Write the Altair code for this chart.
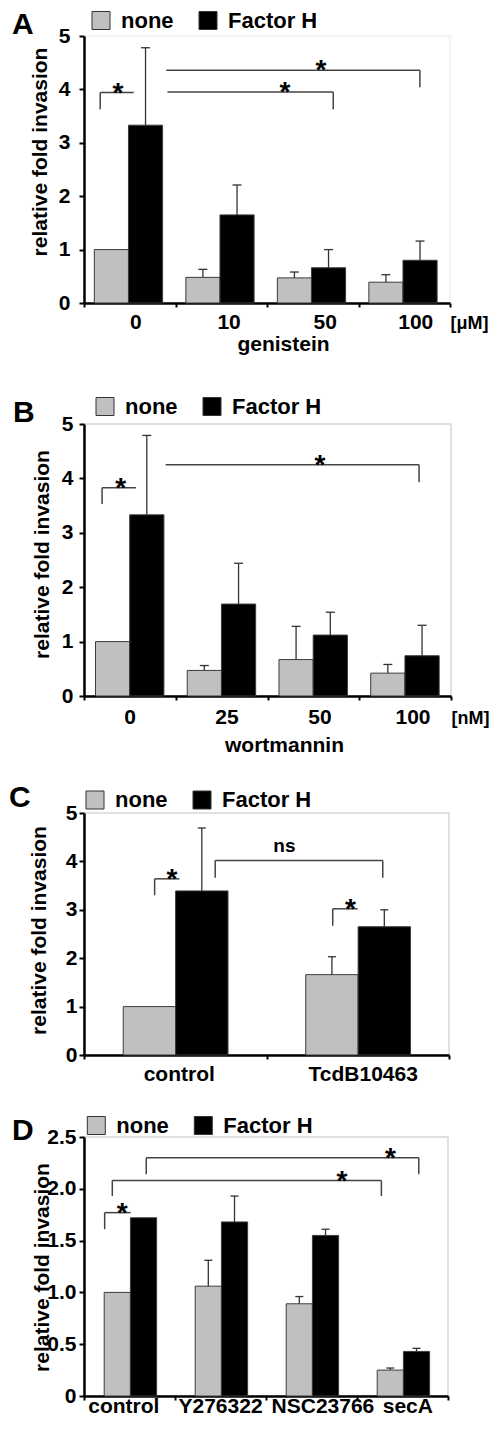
import altair as alt
import pandas as pd

FONT = "Liberation Sans"
SERIES = ["none", "Factor H"]
COLORS = ["#c0c0c0", "#000000"]

# ---------------- Panel A (genistein) ----------------
a_groups = ["0", "10", "50", "100"]
a_none = [1.0, 0.48, 0.47, 0.39]
a_fh = [3.33, 1.65, 0.66, 0.80]
a_none_up = [None, 0.63, 0.58, 0.53]
a_fh_up = [4.78, 2.21, 1.00, 1.16]
a_br_x1 = [0.177, 0.912, 0.899]
a_br_x2 = [0.544, 2.724, 3.671]
a_br_y = [3.94, 3.95, 4.36]
a_br_ld = [3.63, None, None]
a_br_rd = [None, 3.63, 4.04]
a_br_tx = [0.371, 2.196, 2.589]
a_br_text = ["*", "*", "*"]

# ---------------- Panel B (wortmannin) ----------------
b_groups = ["0", "25", "50", "100"]
b_none = [1.0, 0.47, 0.67, 0.42]
b_fh = [3.33, 1.69, 1.12, 0.74]
b_none_up = [None, 0.56, 1.28, 0.58]
b_fh_up = [4.79, 2.44, 1.54, 1.30]
b_br_x1 = [0.197, 0.890]
b_br_x2 = [0.567, 3.652]
b_br_y = [3.83, 4.25]
b_br_ld = [3.53, None]
b_br_rd = [None, 3.93]
b_br_tx = [0.401, 2.572]
b_br_text = ["*", "*"]

# ---------------- Panel C (TcdB) ----------------
c_groups = ["control", "TcdB10463"]
c_none = [1.0, 1.66]
c_fh = [3.39, 2.65]
c_none_up = [None, 2.03]
c_fh_up = [4.69, 3.00]
c_br_x1 = [0.387, 0.719, 1.363]
c_br_x2 = [0.523, 1.637, 1.500]
c_br_y = [3.64, 4.02, 3.02]
c_br_ld = [3.30, 3.66, 2.67]
c_br_rd = [None, 3.66, None]
c_br_tx = [0.482, 1.098, 1.460]
c_br_text = ["*", "ns", "*"]

# ---------------- Panel D (inhibitors) ----------------
d_groups = ["control", "Y276322", "NSC23766", "secA"]
d_none = [1.0, 1.06, 0.89, 0.25]
d_fh = [1.72, 1.68, 1.55, 0.43]
d_none_up = [None, 1.31, 0.96, 0.27]
d_fh_up = [None, 1.93, 1.61, 0.46]
d_br_x1 = [0.227, 0.311, 0.684]
d_br_x2 = [0.513, 3.268, 3.679]
d_br_y = [1.77, 2.08, 2.30]
d_br_ld = [1.61, 1.93, 2.14]
d_br_rd = [None, 1.93, 2.14]
d_br_tx = [0.420, 2.836, 3.367]
d_br_text = ["*", "*", "*"]

Y_TITLE = "relative fold invasion"


def panel(letter, groups, none, fh, none_up, fh_up,
          br_x1, br_x2, br_y, br_ld, br_rd, br_tx, br_text,
          ymax, yvals, ylabel_expr, unit, xtitle, lay):
    n = len(groups)
    pad, bw = lay["pad"], lay["bw"]
    rows = []
    for s, (name, vals, ups) in enumerate(zip(SERIES, [none, fh], [none_up, fh_up])):
        for i, g in enumerate(groups):
            x1 = i + pad + s * bw
            rows.append(dict(group=g, series=name, value=vals[i], base=0.0,
                             upper=ups[i], x1=x1, x2=x1 + bw, xc=x1 + bw / 2))
    df = pd.DataFrame(rows)
    err_df = df.dropna(subset=["upper"])

    segs = []
    for x1, x2, y, ld, rd in zip(br_x1, br_x2, br_y, br_ld, br_rd):
        segs.append(dict(x=x1, x2=x2, y=y, y2=y))
        if ld is not None:
            segs.append(dict(x=x1, x2=x1, y=y, y2=ld))
        if rd is not None:
            segs.append(dict(x=x2, x2=x2, y=y, y2=rd))
    seg_df = pd.DataFrame(segs)
    lab_df = pd.DataFrame(dict(x=br_tx, y=br_y, t=br_text))
    star_df = lab_df[lab_df.t == "*"]
    word_df = lab_df[lab_df.t != "*"]

    xscale = alt.Scale(domain=[0, n], nice=False, zero=False)
    yscale = alt.Scale(domain=[0, ymax], nice=False, zero=True)

    label_pos = lay.get("label_pos", [i + 0.5 for i in range(n)])
    parts = [f"abs(datum.value - {p}) < 1e-6 ? '{g}'" for p, g in zip(label_pos, groups)]
    if unit:
        parts.append(f"datum.value == {n} ? '{unit}'")
    label_expr = " : ".join(parts) + " : ''"
    xvals = list(range(n + 1)) + label_pos

    xaxis_kw = dict(
        values=xvals, labelExpr=label_expr,
        tickColor={"condition": {"test": "datum.value % 1 == 0", "value": "black"},
                   "value": "transparent"},
        labelAlign={"condition": {"test": f"datum.value == {n}", "value": "left"},
                    "value": "center"},
        labelFontSize={"condition": {"test": f"datum.value == {n}", "value": 18},
                       "value": 21},
        tickSize=4, tickWidth=2, domainColor="black", domainWidth=2.5,
        labelFont=FONT, labelFontWeight="bold", labelColor="black",
        labelBaseline="alphabetic", labelPadding=lay["xlp"],
        labelOverlap=False, labelFlush=False, grid=False,
    )
    if xtitle:
        xaxis_kw.update(title=xtitle, titleFont=FONT, titleFontSize=21,
                        titleFontWeight="bold", titleColor="black",
                        titleX=lay["xtx"], titleY=lay["xty"],
                        titleBaseline="alphabetic", titleAlign="center")
    else:
        xaxis_kw.update(title=None)
    xaxis = alt.Axis(**xaxis_kw)

    yaxis = alt.Axis(
        values=yvals, labelExpr=ylabel_expr,
        tickColor="black", tickSize=5, tickWidth=2,
        domainColor="black", domainWidth=2.5,
        labelFont=FONT, labelFontSize=21, labelFontWeight="bold", labelColor="black",
        labelPadding=lay["ylp"], grid=False,
        title=Y_TITLE, titleFont=FONT, titleFontSize=21, titleFontWeight="bold",
        titleColor="black", titleAngle=270, titleBaseline="middle", titleAlign="center",
        titleX=lay["ytx"], titleY=lay["yty"],
    )

    legend = alt.Legend(
        orient="none", legendX=lay["lgx"], legendY=lay["lgy"], direction="horizontal",
        title=None, symbolType="square", symbolSize=324, symbolStrokeColor="#333333",
        symbolStrokeWidth=1, symbolOpacity=1, labelFont=FONT, labelFontSize=22,
        labelFontWeight="bold", labelColor="black", labelOffset=9, columnPadding=23,
    )

    def X(field):
        return alt.X(field, scale=xscale, axis=xaxis)

    def Y(field):
        return alt.Y(field, scale=yscale, axis=yaxis)

    bars = alt.Chart(df).mark_bar(stroke="#3c3c3c", strokeWidth=1, opacity=1).encode(
        x=X("x1:Q"), x2="x2:Q",
        y=Y("value:Q"), y2="base:Q",
        color=alt.Color("series:N", scale=alt.Scale(domain=SERIES, range=COLORS),
                        legend=legend),
    )
    err = alt.Chart(err_df).mark_rule(color="#333333", strokeWidth=1.3).encode(
        x=X("xc:Q"), y=Y("value:Q"), y2="upper:Q",
    )
    cap = alt.Chart(err_df).mark_tick(color="#333333", thickness=1.3, size=lay["cap"],
                                      orient="horizontal", opacity=1).encode(
        x=X("xc:Q"), y=Y("upper:Q"),
    )
    seg = alt.Chart(seg_df).mark_rule(color="#444444", strokeWidth=1.5).encode(
        x=X("x:Q"), x2="x2:Q", y=Y("y:Q"), y2="y2:Q",
    )
    layers = [bars, err, cap, seg]
    if len(star_df):
        layers.append(alt.Chart(star_df).mark_text(
            font=FONT, fontSize=28, fontWeight="bold", color="black",
            baseline="alphabetic", align="center", dy=9).encode(
            x=X("x:Q"), y=Y("y:Q"), text="t:N"))
    if len(word_df):
        layers.append(alt.Chart(word_df).mark_text(
            font=FONT, fontSize=19, fontWeight="bold", color="black",
            baseline="alphabetic", align="center", dy=-8).encode(
            x=X("x:Q"), y=Y("y:Q"), text="t:N"))
    letter_layer = alt.Chart(pd.DataFrame({"t": [letter]})).mark_text(
        font=FONT, fontSize=30, fontWeight="bold", color="black",
        align="left", baseline="top").encode(
        text="t:N", x=alt.value(lay["ltx"]), y=alt.value(lay["lty"]))
    layers.append(letter_layer)
    # invisible extent guides fixing the panel's outer bounds (vertical layout)
    guide = alt.Chart(pd.DataFrame({"k": [0]})).mark_rule(opacity=0).encode(
        x=alt.value(0), x2=alt.value(4),
        y=alt.value(-lay["top"]), y2=alt.value(lay["h"] + lay["bot"]))
    layers.append(guide)

    return alt.layer(*layers).properties(
        width=lay["w"], height=lay["h"],
        view=alt.ViewBackground(stroke=lay["frame"], strokeWidth=1.5),
    )


int_expr = "format(datum.value, 'd')"
dec_expr = "datum.value == 0 ? '0' : format(datum.value, '.1f')"

pA = panel("A", a_groups, a_none, a_fh, a_none_up, a_fh_up,
           a_br_x1, a_br_x2, a_br_y, a_br_ld, a_br_rd, a_br_tx, a_br_text,
           5, [0, 1, 2, 3, 4, 5], int_expr, "[μM]", "genistein",
           dict(w=366, h=267, pad=0.113, bw=0.373, cap=9, xlp=21, xtx=199, xty=47.5,
                label_pos=[0.56, 1.58, 2.63, 3.62],
                ylp=9, ytx=-44, yty=115.5, lgx=6, lgy=-26.5, ltx=-72, lty=-26,
                top=26.5, bot=58, frame="#f1f1f1"))
pB = panel("B", b_groups, b_none, b_fh, b_none_up, b_fh_up,
           b_br_x1, b_br_x2, b_br_y, b_br_ld, b_br_rd, b_br_tx, b_br_text,
           5, [0, 1, 2, 3, 4, 5], int_expr, "[nM]", "wortmannin",
           dict(w=367, h=272, pad=0.125, bw=0.373, cap=9, xlp=23, xtx=200, xty=55,
                label_pos=[0.496, 1.553, 2.566, 3.58],
                ylp=6, ytx=-41.5, yty=130, lgx=10, lgy=-28.5, ltx=-71, lty=-26,
                top=61, bot=60, frame="#d6d6d6"))
pC = panel("C", c_groups, c_none, c_fh, c_none_up, c_fh_up,
           c_br_x1, c_br_x2, c_br_y, c_br_ld, c_br_rd, c_br_tx, c_br_text,
           5, [0, 1, 2, 3, 4, 5], int_expr, None, None,
           dict(w=365, h=242, pad=0.215, bw=0.287, cap=8, xlp=21,
                label_pos=[0.519, 1.527],
                ylp=2, ytx=-45, yty=117, lgx=0, lgy=-24, ltx=-75, lty=-30,
                top=55, bot=30, frame="#d6d6d6"))
pD = panel("D", d_groups, d_none, d_fh, d_none_up, d_fh_up,
           d_br_x1, d_br_x2, d_br_y, d_br_ld, d_br_rd, d_br_tx, d_br_text,
           2.5, [0, 0.5, 1.0, 1.5, 2.0, 2.5], dec_expr, None, None,
           dict(w=364, h=259, pad=0.222, bw=0.288, cap=8, xlp=12,
                label_pos=[0.432, 1.495, 2.62, 3.553],
                ylp=3, ytx=-42, yty=130, lgx=1.3, lgy=-22.5, ltx=-72, lty=-21,
                top=50, bot=10, frame="#d6d6d6"))

chart = alt.vconcat(pA, pB, pC, pD, spacing=0).resolve_scale(
    color="independent").resolve_legend(color="independent").properties(
    padding=0, background="white")

chart.save("out.html", embed_options={"renderer": "svg", "actions": False})
